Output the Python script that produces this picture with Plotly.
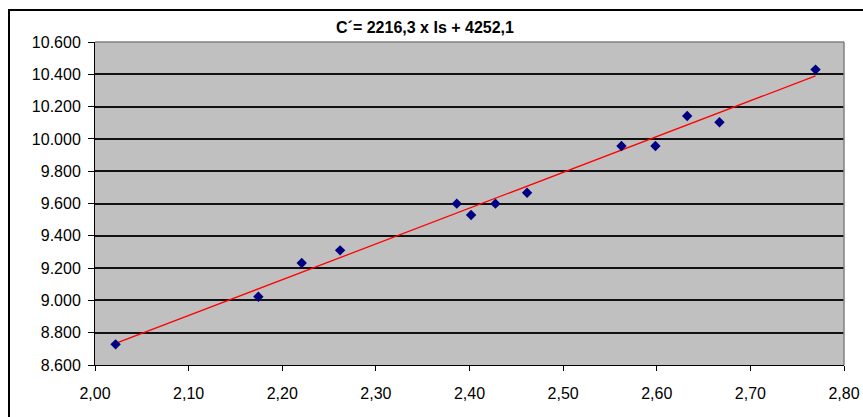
import plotly.graph_objects as go

# Data
Is_values = [2.022, 2.1745, 2.2208, 2.2618, 2.3864, 2.4017, 2.4277, 2.4615,
             2.5623, 2.5986, 2.6325, 2.667, 2.7696]
C_values = [8728, 9023, 9232, 9310, 9599, 9529, 9599, 9667,
            9956, 9956, 10142, 10103, 10429]
slope = 2216.3
intercept = 4252.1
title_text = "C´= 2216,3 x Is + 4252,1"
x_ticks = [2.0, 2.1, 2.2, 2.3, 2.4, 2.5, 2.6, 2.7, 2.8]
y_ticks = [8600, 8800, 9000, 9200, 9400, 9600, 9800, 10000, 10200, 10400, 10600]

W, H = 863, 417
L, R, T, B = 95, 844, 42, 365

trend_x = [min(Is_values), max(Is_values)]
trend_y = [slope * v + intercept for v in trend_x]

fig = go.Figure()
fig.add_trace(go.Scatter(x=trend_x, y=trend_y, mode="lines",
                         line=dict(color="#FF0000", width=1.3),
                         hoverinfo="skip", showlegend=False))
fig.add_trace(go.Scatter(x=Is_values, y=C_values, mode="markers",
                         marker=dict(symbol="diamond", color="#000080", size=8,
                                     line=dict(width=0)),
                         showlegend=False))

font_family = "Liberation Sans, Arial, sans-serif"
fig.update_layout(
    width=W, height=H,
    margin=dict(l=L, r=W - R, t=T, b=H - B, pad=0, autoexpand=False),
    paper_bgcolor="white",
    plot_bgcolor="#C0C0C0",
    separators=",.",
    font=dict(family=font_family, size=16, color="black"),
    title=dict(text="<b>" + title_text + "</b>", x=425 / W, xanchor="center",
               y=1 - 27 / H, yanchor="middle",
               font=dict(family=font_family, size=16, color="black")),
    xaxis=dict(range=[2.0, 2.8], tickvals=x_ticks, tickformat=".2f",
               automargin=False,
               showgrid=False, zeroline=False, showline=True, linecolor="black",
               linewidth=1, ticks="outside", ticklen=5, tickcolor="black",
               tickfont=dict(size=16, family=font_family), ticklabelstandoff=9),
    yaxis=dict(range=[8600, 10600], tickvals=y_ticks, tickformat=",.0f",
               automargin=False,
               showgrid=True, gridcolor="#111111", gridwidth=1.5, zeroline=False,
               showline=True, linecolor="black", linewidth=1,
               ticks="outside", ticklen=6, tickcolor="black",
               tickfont=dict(size=16, family=font_family), ticklabelstandoff=4),
)

pw, ph = R - L, B - T
# gray plot border on top and right
fig.add_shape(type="line", xref="paper", yref="paper", x0=0, x1=1, y0=1, y1=1,
              line=dict(color="#808080", width=1.5))
fig.add_shape(type="line", xref="paper", yref="paper", x0=1, x1=1, y0=0, y1=1,
              line=dict(color="#808080", width=1.5))
# outer chart frame (extends beyond the visible window on right and bottom)
fig.add_shape(type="rect", xref="paper", yref="paper",
              x0=(9 - L) / pw, x1=(W + 10 - L) / pw,
              y0=(B - (H + 10)) / ph, y1=(B - 10) / ph,
              line=dict(color="black", width=2), fillcolor="rgba(0,0,0,0)",
              layer="above")

fig.write_html(
    "out.html",
    config={"displayModeBar": False},
    post_script="document.body.style.margin='0';document.body.style.overflow='hidden';",
)
